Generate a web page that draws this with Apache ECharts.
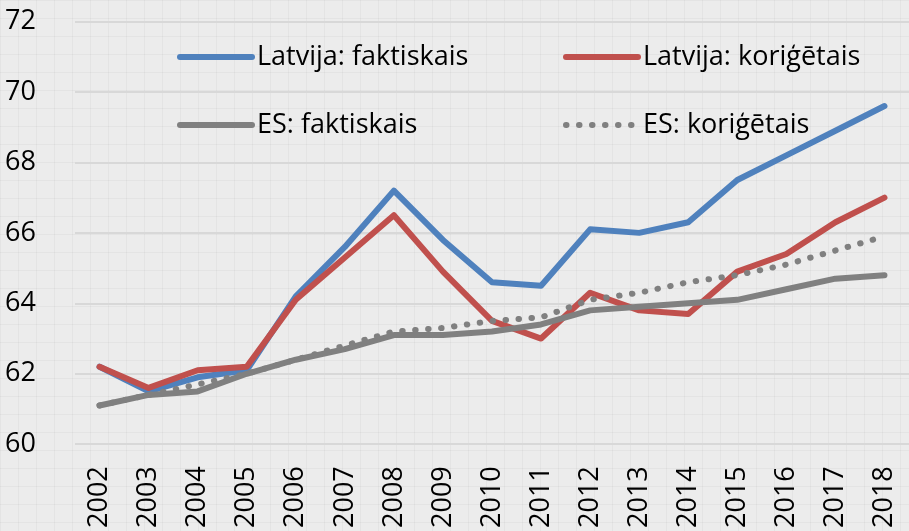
<!DOCTYPE html>
<html>
<head>
<meta charset="utf-8">
<script src="https://cdn.jsdelivr.net/npm/echarts@6/dist/echarts.min.js"></script>
<style>
html,body{margin:0;padding:0;}
body{width:909px;height:531px;overflow:hidden;
background-color:#ececec;
background-image:
 linear-gradient(to right, rgba(0,0,0,0.035) 1px, transparent 1px),
 linear-gradient(to bottom, rgba(0,0,0,0.035) 1px, transparent 1px);
background-size:18px 18px;}
#chart{width:909px;height:531px;}
</style>
</head>
<body>
<div id="chart"></div>
<script>
const years = ['2002','2003','2004','2005','2006','2007','2008','2009','2010','2011','2012','2013','2014','2015','2016','2017','2018'];
const lvActual = [62.2,61.5,61.9,62.1,64.2,65.6,67.2,65.8,64.6,64.5,66.1,66.0,66.3,67.5,68.2,68.9,69.6];
const lvAdjusted = [62.2,61.6,62.1,62.2,64.1,65.3,66.5,64.9,63.5,63.0,64.3,63.8,63.7,64.9,65.4,66.3,67.0];
const euActual = [61.1,61.4,61.5,62.0,62.4,62.7,63.1,63.1,63.2,63.4,63.8,63.9,64.0,64.1,64.4,64.7,64.8];
const euAdjusted = [61.1,61.4,61.7,62.0,62.4,62.8,63.2,63.3,63.5,63.6,64.1,64.3,64.6,64.8,65.1,65.5,65.9];
const yTicks = {min:60, max:72, interval:2};
const names = ['Latvija: faktiskais','Latvija: koriģētais','ES: faktiskais','ES: koriģētais'];

const font = '"Open Sans", "Liberation Sans", sans-serif';
const chart = echarts.init(document.getElementById('chart'), null, {renderer:'canvas'});
const mk = (name, data, color, type, z) => ({
  name, type:'line', data, showSymbol:false, symbol:'none', z,
  lineStyle:{color, width:6, type, cap:'round', join:'round'},
  itemStyle:{color},
  emphasis:{disabled:true}
});
const legendBase = {orient:'vertical', top:37, itemWidth:72, itemHeight:14, itemGap:38,
  itemStyle:{opacity:0},
  lineStyle:{width:6, cap:'round'},
  textStyle:{fontSize:27, color:'#000', lineHeight:30, fontFamily:font}};
chart.setOption({
  animation:false,
  backgroundColor:'transparent',
  textStyle:{fontFamily:font},
  grid:{left:75, right:-10, top:21.5, bottom:86.5, containLabel:false},
  legend:[
    Object.assign({}, legendBase, {data:[names[0], names[2]], left:172}),
    Object.assign({}, legendBase, {data:[names[1], names[3]], left:558})
  ],
  xAxis:{type:'category', data:years, boundaryGap:true,
    axisLine:{show:false}, axisTick:{show:false},
    axisLabel:{rotate:90, margin:22, fontSize:27, color:'#000', fontFamily:font, interval:0}},
  yAxis:{type:'value', min:yTicks.min, max:yTicks.max, interval:yTicks.interval,
    axisLine:{show:false}, axisTick:{show:false},
    axisLabel:{align:'left', margin:70, fontSize:27, color:'#000', fontFamily:font},
    splitLine:{lineStyle:{color:'#d8d8d8', width:2}}},
  series:[
    mk(names[0], lvActual, '#4f81bd', 'solid', 2),
    mk(names[1], lvAdjusted, '#c0504d', 'solid', 3),
    mk(names[2], euActual, '#808080', 'solid', 4),
    mk(names[3], euAdjusted, '#808080', [0.5,12.5], 5)
  ]
});
</script>
</body>
</html>
